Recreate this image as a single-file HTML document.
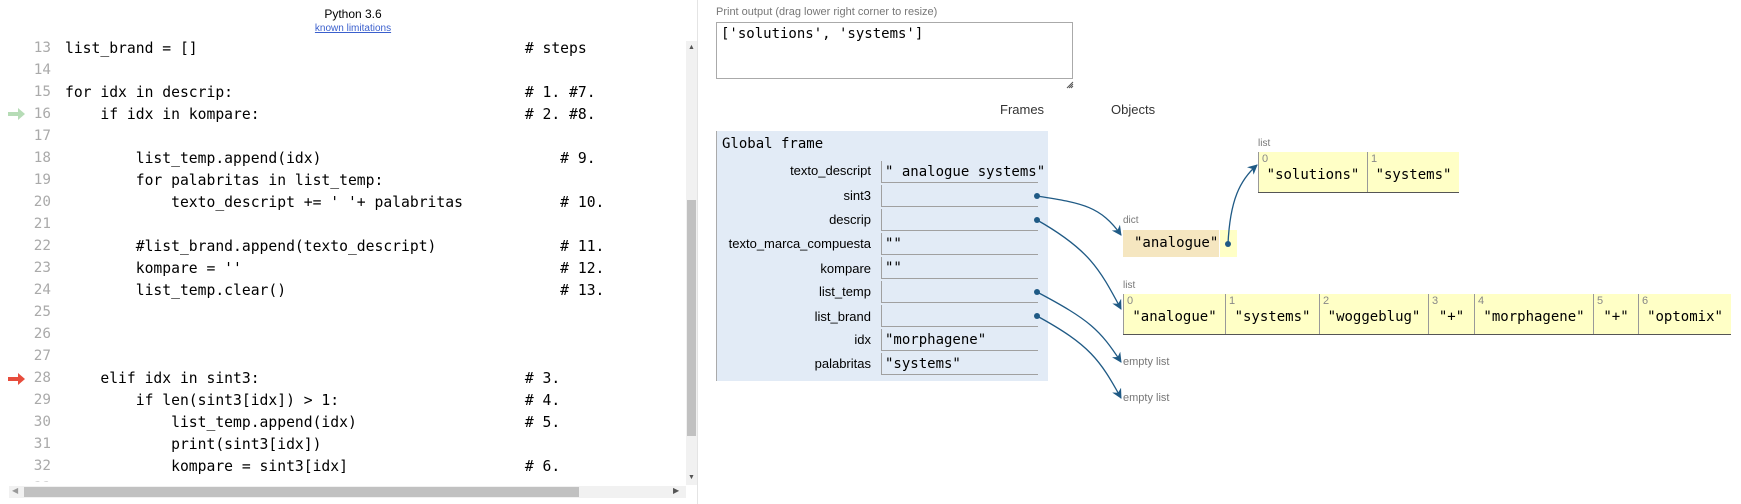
<!DOCTYPE html>
<html><head><meta charset="utf-8"><style>
body{margin:0;width:1741px;height:504px;background:#fff;position:relative;overflow:hidden;font-family:"Liberation Sans",sans-serif;}
.a{position:absolute;white-space:pre;}
.code{font-family:"DejaVu Sans Mono","Liberation Mono",monospace;font-size:14.7px;color:#000;}
.ln{font-family:"DejaVu Sans Mono","Liberation Mono",monospace;font-size:14.3px;color:#aaa;text-align:right;width:40px;}
.lbl{font-size:13px;color:#000;text-align:right;width:200px;}
.vb{position:absolute;left:881px;width:157px;height:22px;border-left:1px solid #a0a0a0;border-bottom:1px solid #a0a0a0;font-family:"DejaVu Sans Mono",monospace;font-size:14px;line-height:22px;padding-left:3px;box-sizing:border-box;white-space:pre;}
.mono{font-family:"DejaVu Sans Mono",monospace;font-size:14px;}
.sm{font-size:11px;color:#777;}
.cell{position:absolute;top:0;height:40px;border-left:1px solid #999;box-sizing:border-box;}
.cell i{position:absolute;left:3px;top:1px;font-style:normal;font-size:11px;color:#888;font-family:"Liberation Sans",sans-serif;}
.cell b{position:absolute;left:0;right:0;top:15px;text-align:center;font-weight:normal;font-family:"DejaVu Sans Mono",monospace;font-size:14px;}
</style></head><body>
<div class="a" style="left:303px;top:7px;width:100px;text-align:center;font-size:12px">Python 3.6</div>
<div class="a" style="left:303px;top:23px;width:100px;text-align:center;font-size:10px;color:#3a5fcd;text-decoration:underline">known limitations</div>

<div class="ln a" style="left:11px;top:40px">13</div><div class="code a" style="left:65px;top:40px">list_brand = []                                     # steps</div>
<div class="ln a" style="left:11px;top:62px">14</div>
<div class="ln a" style="left:11px;top:84px">15</div><div class="code a" style="left:65px;top:84px">for idx in descrip:                                 # 1. #7.</div>
<div class="ln a" style="left:11px;top:106px">16</div><div class="code a" style="left:65px;top:106px">    if idx in kompare:                              # 2. #8.</div>
<div class="ln a" style="left:11px;top:128px">17</div>
<div class="ln a" style="left:11px;top:150px">18</div><div class="code a" style="left:65px;top:150px">        list_temp.append(idx)                           # 9.</div>
<div class="ln a" style="left:11px;top:172px">19</div><div class="code a" style="left:65px;top:172px">        for palabritas in list_temp:</div>
<div class="ln a" style="left:11px;top:194px">20</div><div class="code a" style="left:65px;top:194px">            texto_descript += ' '+ palabritas           # 10.</div>
<div class="ln a" style="left:11px;top:216px">21</div>
<div class="ln a" style="left:11px;top:238px">22</div><div class="code a" style="left:65px;top:238px">        #list_brand.append(texto_descript)              # 11.</div>
<div class="ln a" style="left:11px;top:260px">23</div><div class="code a" style="left:65px;top:260px">        kompare = ''                                    # 12.</div>
<div class="ln a" style="left:11px;top:282px">24</div><div class="code a" style="left:65px;top:282px">        list_temp.clear()                               # 13.</div>
<div class="ln a" style="left:11px;top:304px">25</div>
<div class="ln a" style="left:11px;top:326px">26</div>
<div class="ln a" style="left:11px;top:348px">27</div>
<div class="ln a" style="left:11px;top:370px">28</div><div class="code a" style="left:65px;top:370px">    elif idx in sint3:                              # 3.</div>
<div class="ln a" style="left:11px;top:392px">29</div><div class="code a" style="left:65px;top:392px">        if len(sint3[idx]) > 1:                     # 4.</div>
<div class="ln a" style="left:11px;top:414px">30</div><div class="code a" style="left:65px;top:414px">            list_temp.append(idx)                   # 5.</div>
<div class="ln a" style="left:11px;top:436px">31</div><div class="code a" style="left:65px;top:436px">            print(sint3[idx])</div>
<div class="ln a" style="left:11px;top:458px">32</div><div class="code a" style="left:65px;top:458px">            kompare = sint3[idx]                    # 6.</div>
<div class="ln a" style="left:11px;top:480px">33</div>
<div class="a" style="left:0;top:482px;width:690px;height:22px;background:#fff"></div>
<svg class="a" style="left:8px;top:107px" width="18" height="14"><path d="M0 5h10V1l7 6-7 6V9H0z" fill="#b6dcb6"/></svg>
<svg class="a" style="left:8px;top:372px" width="18" height="14"><path d="M0 5h10V1l7 6-7 6V9H0z" fill="#e74c3c"/></svg>
<div class="a" style="left:686px;top:41px;width:11px;height:444px;background:#f1f1f1"></div>
<div class="a" style="left:687px;top:200px;width:9px;height:236px;background:#c1c1c1"></div>
<div class="a" style="left:688px;top:44px;font-size:7px;color:#555">▲</div>
<div class="a" style="left:688px;top:474px;font-size:7px;color:#555">▼</div>
<div class="a" style="left:9px;top:486px;width:677px;height:12px;background:#f1f1f1"></div>
<div class="a" style="left:24px;top:487px;width:555px;height:10px;background:#c1c1c1"></div>
<div class="a" style="left:12px;top:486px;font-size:8px;color:#999">◀</div>
<div class="a" style="left:673px;top:486px;font-size:8px;color:#555">▶</div>
<div class="a" style="left:697px;top:0;width:1px;height:504px;background:#e4e4e4"></div>

<div class="a sm" style="left:716px;top:6px">Print output (drag lower right corner to resize)</div>
<div class="a" style="left:716px;top:22px;width:357px;height:57px;border:1px solid #aaa;box-sizing:border-box"></div>
<div class="a mono" style="left:721px;top:26px">['solutions', 'systems']</div>
<svg class="a" style="left:1066px;top:81px" width="8" height="8"><path d="M1 7L7 1M3 7L7 3M5 7L7 5" stroke="#555" stroke-width="1"/></svg>
<div class="a" style="left:1000px;top:102px;font-size:13px;color:#333">Frames</div>
<div class="a" style="left:1111px;top:102px;font-size:13px;color:#333">Objects</div>

<div class="a" style="left:716px;top:131px;width:331px;height:250px;background:#e2ebf6;border-left:1px solid #aaa"></div>
<div class="a mono" style="left:722px;top:136px">Global frame</div>
<div class="a lbl" style="left:671px;top:163px">texto_descript</div>
<div class="a lbl" style="left:671px;top:188px">sint3</div>
<div class="a lbl" style="left:671px;top:212px">descrip</div>
<div class="a lbl" style="left:671px;top:236px">texto_marca_compuesta</div>
<div class="a lbl" style="left:671px;top:261px">kompare</div>
<div class="a lbl" style="left:671px;top:284px">list_temp</div>
<div class="a lbl" style="left:671px;top:309px">list_brand</div>
<div class="a lbl" style="left:671px;top:332px">idx</div>
<div class="a lbl" style="left:671px;top:356px">palabritas</div>
<div class="vb" style="top:161px">" analogue systems"</div>
<div class="vb" style="top:185px"></div>
<div class="vb" style="top:209px"></div>
<div class="vb" style="top:233px">""</div>
<div class="vb" style="top:257px">""</div>
<div class="vb" style="top:281px"></div>
<div class="vb" style="top:305px"></div>
<div class="vb" style="top:329px">"morphagene"</div>
<div class="vb" style="top:353px">"systems"</div>

<div class="a sm" style="left:1258px;top:138px;font-size:10px">list</div>
<div class="a" style="left:1258px;top:152px;width:201px;height:40px;background:#ffffc6;border-bottom:1px solid #555;">
<div class="cell" style="left:0;width:109px"><i>0</i><b>"solutions"</b></div>
<div class="cell" style="left:109px;width:92px"><i>1</i><b>"systems"</b></div></div>

<div class="a sm" style="left:1123px;top:215px;font-size:10px">dict</div>
<div class="a" style="left:1123px;top:230px;width:96px;height:27px;background:#f5e6c0"></div>
<div class="a mono" style="left:1134px;top:235px">"analogue"</div>
<div class="a" style="left:1220px;top:230px;width:17px;height:27px;background:#ffffc6"></div>

<div class="a sm" style="left:1123px;top:280px;font-size:10px">list</div>
<div class="a" style="left:1123px;top:294px;width:608px;height:40px;background:#ffffc6;border-bottom:1px solid #555;">
<div class="cell" style="left:0;width:102px"><i>0</i><b>"analogue"</b></div>
<div class="cell" style="left:102px;width:94px"><i>1</i><b>"systems"</b></div>
<div class="cell" style="left:196px;width:109px"><i>2</i><b>"woggeblug"</b></div>
<div class="cell" style="left:305px;width:46px"><i>3</i><b>"+"</b></div>
<div class="cell" style="left:351px;width:119px"><i>4</i><b>"morphagene"</b></div>
<div class="cell" style="left:470px;width:45px"><i>5</i><b>"+"</b></div>
<div class="cell" style="left:515px;width:93px"><i>6</i><b>"optomix"</b></div></div>

<div class="a sm" style="left:1123px;top:356px">empty list</div>
<div class="a sm" style="left:1123px;top:392px">empty list</div>

<svg class="a" style="left:0;top:0" width="1741" height="504">
<defs><marker id="m" markerWidth="10" markerHeight="10" refX="9" refY="5" orient="auto" markerUnits="userSpaceOnUse"><path d="M0 0L10 5L0 10L3 5z" fill="#1f5a85"/></marker></defs>
<g stroke="#1f5a85" stroke-width="1.3" fill="none">
<path d="M1037 196C1080 203 1100 205 1121 235" marker-end="url(#m)"/>
<path d="M1037 220C1090 250 1100 270 1121 309" marker-end="url(#m)"/>
<path d="M1037 292C1090 320 1100 330 1121 362" marker-end="url(#m)"/>
<path d="M1037 316C1090 345 1100 360 1121 398" marker-end="url(#m)"/>
<path d="M1228 244C1230 200 1240 180 1257 165" marker-end="url(#m)"/>
</g>
<g fill="#1f5a85"><circle cx="1037" cy="196" r="3"/><circle cx="1037" cy="220" r="3"/><circle cx="1037" cy="292" r="3"/><circle cx="1037" cy="316" r="3"/><circle cx="1228" cy="244" r="3"/></g>
</svg>
</body></html>
